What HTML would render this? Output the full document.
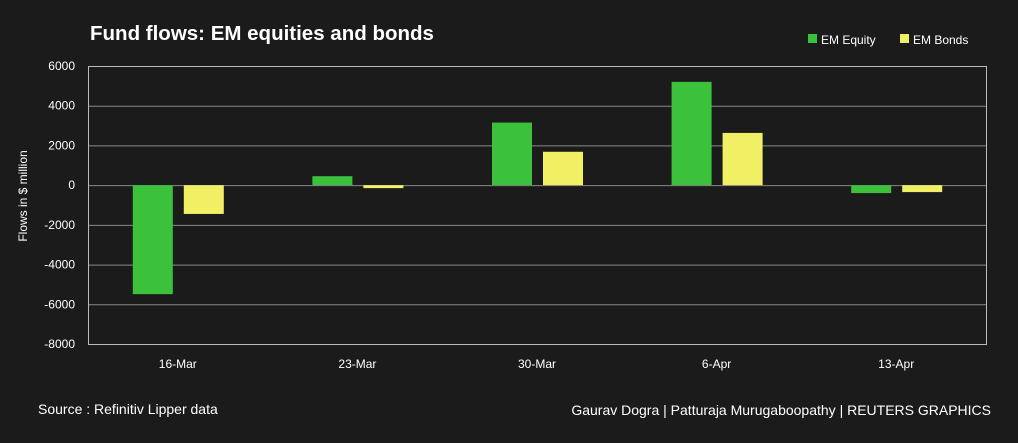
<!DOCTYPE html>
<html><head><meta charset="utf-8"><style>
html,body{margin:0;padding:0;background:#1c1b1c;}
body{width:1018px;height:438px;overflow:hidden;font-family:"Liberation Sans",sans-serif;}
</style></head><body>
<svg id="chart" width="1018" height="438" xmlns="http://www.w3.org/2000/svg">
<rect width="1018" height="438" fill="#1c1b1c"/>
<text x="90" y="40" fill="#fff" font-size="20.5" font-weight="bold">Fund flows: EM equities and bonds</text>
<g>
<rect x="808" y="34" width="9" height="9" fill="#3cc13c"/>
<text x="821" y="44" fill="#fff" font-size="12">EM Equity</text>
<rect x="900" y="34" width="9" height="9" fill="#f1f064"/>
<text x="913" y="44" fill="#fff" font-size="12">EM Bonds</text>
</g>
<text transform="translate(27,196) rotate(-90)" text-anchor="middle" fill="#fff" font-size="12">Flows in $ million</text>
<g id="grid"></g><g id="bars"></g><g id="labels"></g>
<rect x="88.5" y="66.5" width="898" height="278" fill="none" stroke="#bbb" stroke-width="1"/>
<text x="38" y="414" fill="#fff" font-size="14">Source : Refinitiv Lipper data</text>
<text x="991" y="415" text-anchor="end" fill="#fff" font-size="14">Gaurav Dogra | Patturaja Murugaboopathy | REUTERS GRAPHICS</text>
</svg>
<script>
const categories=["16-Mar","23-Mar","30-Mar","6-Apr","13-Apr"];
const equity=[-5490,450,3150,5200,-400];
const bonds=[-1450,-150,1680,2630,-350];
const yTicks=[6000,4000,2000,0,-2000,-4000,-6000,-8000];
const NS="http://www.w3.org/2000/svg";
const L=88,R=986,T=66,B=344,ymin=-8000,ymax=6000;
const y=v=>T+(ymax-v)/(ymax-ymin)*(B-T);
const bw=(R-L)/categories.length;
const xc=i=>L+bw*(i+0.5);
function mk(tag,attrs,parent){const e=document.createElementNS(NS,tag);for(const k in attrs)e.setAttribute(k,attrs[k]);document.getElementById(parent).appendChild(e);return e;}
yTicks.forEach(v=>{
 const g=mk('line',{x1:L,x2:R,y1:y(v)+0.5,y2:y(v)+0.5,stroke:'#888','stroke-width':1},'grid');
 
 
 const t=mk('text',{x:75,y:y(v)+4,'text-anchor':'end',fill:'#fff','font-size':12},'labels');
 t.textContent=v;
 
 
});
categories.forEach((c,i)=>{
 const t=mk('text',{x:xc(i),y:368,'text-anchor':'middle',fill:'#fff','font-size':12},'labels');
 t.textContent=c;
 
 
 const e=equity[i],b=bonds[i];
 const r1=mk('rect',{x:xc(i)-45,y:Math.min(y(e),y(0)),width:40,height:Math.abs(y(e)-y(0)),fill:'#3cc13c'},'bars');
 
 
 const r2=mk('rect',{x:xc(i)+6,y:Math.min(y(b),y(0)),width:40,height:Math.abs(y(b)-y(0)),fill:'#f1f064'},'bars');
 
 
});
</script>
</body></html>
